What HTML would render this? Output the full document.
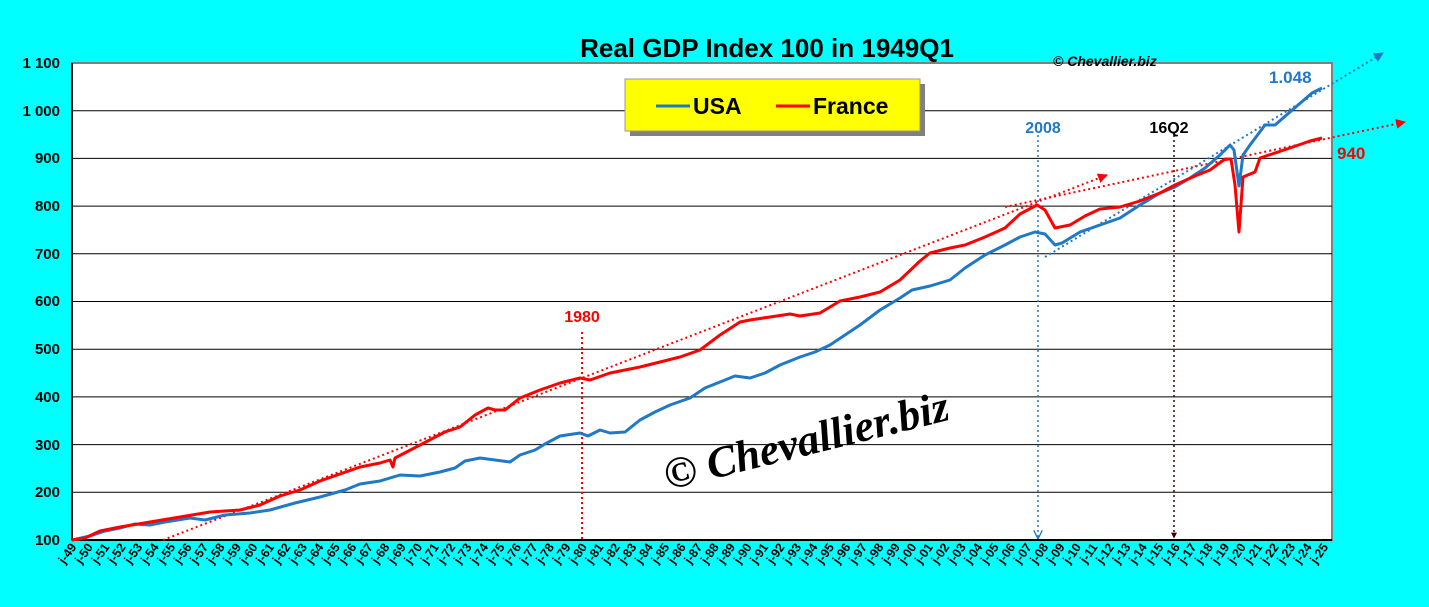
<!DOCTYPE html>
<html><head><meta charset="utf-8"><style>
html,body{margin:0;padding:0;background:#00ffff;}
svg{display:block;font-family:"Liberation Sans",sans-serif;}
</style></head><body>
<svg width="1429" height="607" viewBox="0 0 1429 607" xmlns="http://www.w3.org/2000/svg">
<defs>
<marker id="ar" viewBox="0 0 10 10" refX="9" refY="5" markerWidth="5" markerHeight="5" orient="auto"><path d="M0,0L10,5L0,10z" fill="#ff0000"/></marker>
<marker id="ab" viewBox="0 0 10 10" refX="9" refY="5" markerWidth="5" markerHeight="5" orient="auto"><path d="M0,0L10,5L0,10z" fill="#1f78c8"/></marker>
<marker id="ak" viewBox="0 0 10 10" refX="9" refY="5" markerWidth="4" markerHeight="4" orient="auto"><path d="M0,0L10,5L0,10z" fill="#400000"/></marker>
<marker id="av" viewBox="0 0 10 10" refX="9" refY="5" markerWidth="6" markerHeight="6" orient="auto"><path d="M0,0L10,5L0,10" fill="none" stroke="#1f78c8" stroke-width="1.5"/></marker>
</defs>
<rect x="72" y="63" width="1260" height="477" fill="#fff" stroke="#808080" stroke-width="2"/>
<g stroke="#000" stroke-width="1">
<line x1="72" y1="110.7" x2="1332" y2="110.7"/><line x1="72" y1="158.4" x2="1332" y2="158.4"/>
<line x1="72" y1="206.1" x2="1332" y2="206.1"/><line x1="72" y1="253.8" x2="1332" y2="253.8"/>
<line x1="72" y1="301.5" x2="1332" y2="301.5"/><line x1="72" y1="349.2" x2="1332" y2="349.2"/>
<line x1="72" y1="396.9" x2="1332" y2="396.9"/><line x1="72" y1="444.6" x2="1332" y2="444.6"/>
<line x1="72" y1="492.3" x2="1332" y2="492.3"/>
</g>
<line x1="72" y1="540" x2="1332" y2="540" stroke="#000" stroke-width="2"/>
<line x1="72" y1="63" x2="72" y2="540" stroke="#000" stroke-width="2"/>
<g font-weight="bold" font-size="15" text-anchor="end" fill="#000">
<text x="60" y="68">1 100</text><text x="60" y="116">1 000</text><text x="60" y="163">900</text>
<text x="60" y="211">800</text><text x="60" y="259">700</text><text x="60" y="306">600</text>
<text x="60" y="354">500</text><text x="60" y="402">400</text><text x="60" y="450">300</text>
<text x="60" y="497">200</text><text x="60" y="545">100</text>
</g>
<g id="xl" font-weight="bold" font-size="12.5" text-anchor="end" fill="#000"></g>
<text x="767" y="57" font-size="26" font-weight="bold" text-anchor="middle">Real GDP Index 100 in 1949Q1</text>
<text x="1053" y="66" font-size="14" font-weight="bold" font-style="italic">© Chevallier.biz</text>
<rect x="630" y="84" width="295" height="52" fill="#808080"/>
<rect x="625" y="79" width="295" height="52" fill="#ffff00" stroke="#999" stroke-width="1"/>
<line x1="656" y1="106" x2="690" y2="106" stroke="#1f78c8" stroke-width="3"/>
<text x="693" y="114" font-size="23" font-weight="bold">USA</text>
<line x1="776" y1="106" x2="810" y2="106" stroke="#ff0000" stroke-width="3"/>
<text x="813" y="114" font-size="23" font-weight="bold">France</text>
<g stroke-dasharray="2,3" stroke-width="2" fill="none">
<line x1="163" y1="540" x2="1107" y2="175" stroke="#ff0000" marker-end="url(#ar)"/>
<line x1="1005" y1="207" x2="1405" y2="122" stroke="#ff0000" marker-end="url(#ar)"/>
<line x1="1045" y1="257" x2="1383" y2="53" stroke="#1f78c8" marker-end="url(#ab)"/>
<line x1="582" y1="332" x2="582" y2="540" stroke="#ff0000"/>
<line x1="1038" y1="135" x2="1038" y2="538" stroke="#1f78c8" stroke-width="1.5" marker-end="url(#av)"/>
<line x1="1174" y1="135" x2="1174" y2="538" stroke="#400000" stroke-width="1.5" marker-end="url(#ak)"/>
</g>
<polyline fill="none" stroke="#1f78c8" stroke-width="3" stroke-linejoin="round" points="72,540 90,536 105,531 120,528 135,524 150,525 165,522 190,518 205,520 225,515 250,513 270,510 295,503 320,497 345,490 360,484 380,481 400,475 420,476 440,472 455,468 465,461 480,458 495,460 510,462 520,455 535,450 545,444 560,436 580,433 588,436 600,430 610,433 625,432 640,420 655,412 670,405 690,398 705,388 720,382 735,376 750,378 765,373 780,365 800,357 815,352 830,345 845,335 860,325 880,310 900,298 912,290 930,286 950,280 965,268 985,255 1005,245 1020,237 1035,232 1045,234 1055,245 1062,243 1080,232 1100,225 1120,218 1140,205 1160,193 1175,187 1190,178 1205,168 1220,155 1230,145 1234,150 1239,186 1243,155 1250,145 1265,125 1275,125 1290,112 1312,93 1322,88"/>
<polyline fill="none" stroke="#ff0000" stroke-width="3" stroke-linejoin="round" points="72,540 85,538 100,531 120,527 150,522 180,517 210,512 240,510 260,505 280,496 300,490 320,481 340,474 360,467 380,463 390,460 393,467 395,458 420,445 445,432 460,427 475,415 488,408 495,410 505,410 520,398 540,390 560,383 580,378 590,380 610,373 640,367 660,362 680,357 700,350 720,335 740,322 750,320 770,317 790,314 800,316 820,313 840,301 860,297 880,292 900,280 920,261 930,253 950,248 965,245 985,237 1005,228 1020,214 1037,205 1045,210 1055,228 1070,225 1085,216 1100,209 1120,207 1140,201 1160,193 1175,185 1195,176 1210,170 1225,159 1231,159 1235,185 1239,232 1243,177 1255,172 1260,158 1290,148 1310,141 1322,138"/>
<text x="582" y="322" font-size="16" font-weight="bold" fill="#ff0000" text-anchor="middle">1980</text>
<text x="1043" y="133" font-size="16" font-weight="bold" fill="#1f78c8" text-anchor="middle">2008</text>
<text x="1169" y="133" font-size="16" font-weight="bold" fill="#000" text-anchor="middle">16Q2</text>
<text x="1269" y="83" font-size="17" font-weight="bold" fill="#1f78c8">1.048</text>
<text x="1337" y="159" font-size="17" font-weight="bold" fill="#ff0000">940</text>
<text x="0" y="0" transform="translate(668,490) rotate(-14)" font-family="'Liberation Serif',serif" font-style="italic" font-weight="bold" font-size="44" fill="#000">© Chevallier.biz</text>
</svg>
<script>
var g=document.getElementById('xl'),s='';
for(var i=0;i<77;i++){var y=(49+i)%100;var lab='j-'+(y<10?'0':'')+y;var x=72+i*16.47;
s+='<text transform="translate('+(x+5)+',547) rotate(-55)">'+lab+'</text>';}
g.innerHTML=s;
</script>
</body></html>
